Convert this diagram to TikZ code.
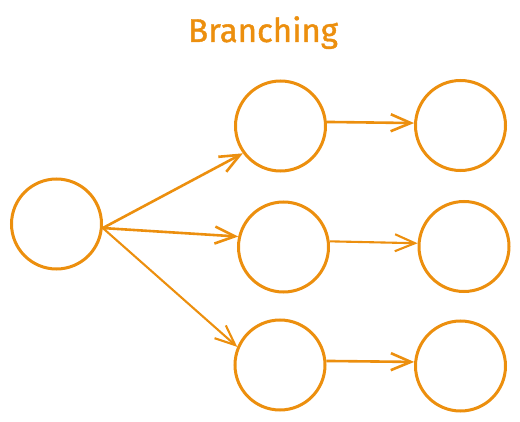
\documentclass[tikz,border=0pt]{standalone}
\usepackage{fontspec}
\setmainfont{Fira Sans}
\newfontfamily\titlefont[FakeBold=1.2]{Fira Sans}
\usetikzlibrary{arrows.meta}
\definecolor{exorange}{RGB}{236,143,14}
\begin{document}
\begin{tikzpicture}[x=1pt,y=-1pt,
  blob/.style={circle,draw=exorange,line width=3pt,minimum size=90pt,inner sep=0pt},
  link/.style={draw=exorange,line width=2.6pt,-{Straight Barb[length=20pt,width=17pt,line width=2.6pt]}},
  thinlink/.style={draw=exorange,line width=2.1pt,-{Straight Barb[length=20pt,width=17pt,line width=2.1pt]}}]
\useasboundingbox (0,0) rectangle (520,422);
\node[text=exorange,font=\titlefont\fontsize{33}{38}\selectfont,anchor=base] (title) at (263,42) {Branching};
\node[blob] (L) at (56.5,224) {};
\node[blob] (T1) at (280.5,126) {};
\node[blob] (M1) at (283.5,247) {};
\node[blob] (B1) at (280,365) {};
\node[blob] (T2) at (460.5,125.5) {};
\node[blob] (M2) at (464,246.5) {};
\node[blob] (B2) at (460.5,366) {};
\draw[link] (L.-5) -- (T1.-144);
\draw[link] (L.-5) -- (M1.167);
\draw[thinlink] (L.-5) -- (B1.157);
\draw[link] (T1.5) -- (T2.177);
\draw[thinlink] (M1.7) -- (M2.176);
\draw[link] (B1.5) -- (B2.175);
\end{tikzpicture}
\end{document}
